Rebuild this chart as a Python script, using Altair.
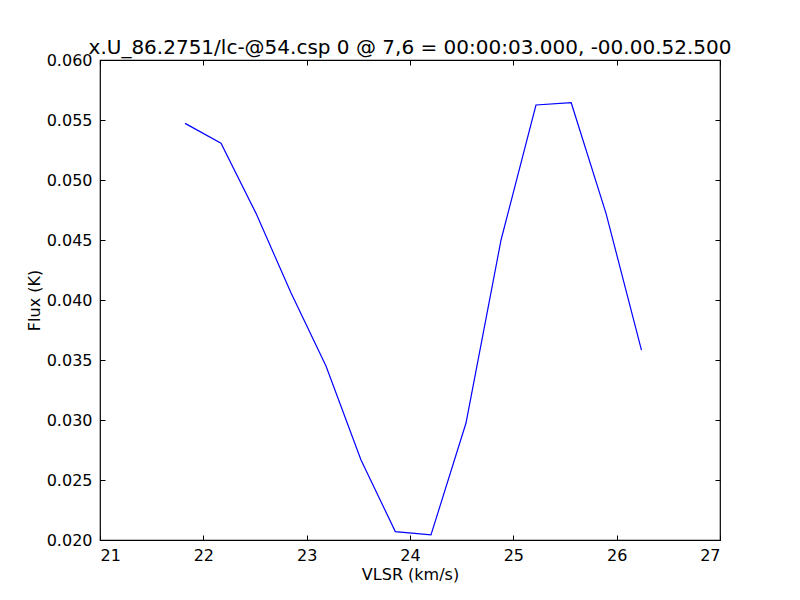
import altair as alt
import pandas as pd

vlsr = [21.823, 22.171, 22.510, 22.848, 23.187, 23.526, 23.858, 24.203,
        24.542, 24.881, 25.219, 25.560, 25.897, 26.240]
flux = [0.05472, 0.05306, 0.04722, 0.04060, 0.03450, 0.02667, 0.02070, 0.02042,
        0.02975, 0.04500, 0.05625, 0.05644, 0.04722, 0.03583]
x_ticks = [21, 22, 23, 24, 25, 26, 27]
y_ticks = [0.020, 0.025, 0.030, 0.035, 0.040, 0.045, 0.050, 0.055, 0.060]
title_text = "x.U_86.2751/lc-@54.csp 0 @ 7,6 = 00:00:03.000, -00.00.52.500"

df = pd.DataFrame({"vlsr": vlsr, "flux": flux})

FONT = "DejaVu Sans"
TS = 5

xscale = alt.Scale(domain=[21, 27], nice=False, zero=False)
yscale = alt.Scale(domain=[0.020, 0.060], nice=False, zero=False)

main = alt.Chart(df).mark_line(color="#0000ff", strokeWidth=1.2, clip=True).encode(
    x=alt.X("vlsr:Q", scale=xscale,
            axis=alt.Axis(orient="bottom", values=x_ticks, format="d", title="VLSR (km/s)",
                          offset=-TS, tickSize=TS, labelPadding=2 + TS, domain=False,
                          grid=False, titlePadding=3)),
    y=alt.Y("flux:Q", scale=yscale,
            axis=alt.Axis(orient="left", values=y_ticks, format=".3f", title="Flux (K)",
                          offset=-TS, tickSize=TS, labelPadding=3 + TS, domain=False,
                          grid=False, titlePadding=4)),
)

other = alt.Chart(df).mark_line(opacity=0).encode(
    x=alt.X("vlsr:Q", scale=xscale,
            axis=alt.Axis(orient="top", values=x_ticks, labels=False, title=None,
                          offset=-TS, tickSize=TS, domain=False, grid=False)),
    y=alt.Y("flux:Q", scale=yscale,
            axis=alt.Axis(orient="right", values=y_ticks, labels=False, title=None,
                          offset=-TS, tickSize=TS, domain=False, grid=False)),
)

chart = alt.layer(main, other).resolve_axis(x="independent", y="independent").properties(
    width=620, height=480,
    background="white",
    autosize=alt.AutoSizeParams(type="none"),
    padding={"left": 92, "top": 52, "right": 72, "bottom": 52},
    title=alt.TitleParams(title_text, font=FONT, fontSize=20, fontWeight="normal",
                          anchor="middle", offset=6, dy=12, color="black"),
).configure_view(stroke="black", strokeWidth=1.2).configure_axis(
    labelFont=FONT, titleFont=FONT, labelFontSize=16, titleFontSize=16,
    labelColor="black", titleColor="black", titleFontWeight="normal",
    tickColor="black", tickWidth=1
)

chart.save("out.html", embed_options={"renderer": "svg", "actions": False})
